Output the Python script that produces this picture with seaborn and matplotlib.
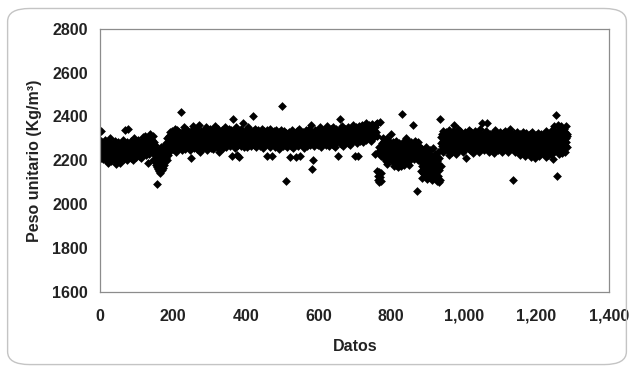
import numpy as np
import pandas as pd
import matplotlib.pyplot as plt
import seaborn as sns
from matplotlib.patches import FancyBboxPatch

# valores (peso unitario por dato, en orden)
peso_a = [2335, 2210, 2290, 2245, 2225, 2270, 2205, 2255, 2280, 2230, 2215, 2265, 2240, 2295, 2220, 2250, 2200, 2275, 2235, 2260,
          2245, 2190, 2285, 2225, 2260, 2210, 2240, 2300, 2230, 2255, 2195, 2270, 2250, 2215, 2280, 2235, 2265, 2205, 2245, 2290,
          2220, 2260, 2185, 2275, 2240, 2230, 2255, 2200, 2285, 2250, 2215, 2270, 2235, 2190, 2265, 2245, 2225, 2280, 2210, 2255,
          2240, 2295, 2225, 2260, 2205, 2250, 2275, 2235, 2340, 2215, 2265, 2245, 2200, 2285, 2255, 2230, 2345, 2270, 2220, 2250,
          2280, 2235, 2260, 2210, 2290, 2245, 2225, 2270, 2255, 2200, 2265, 2240, 2300, 2220, 2250, 2275, 2230, 2260, 2215, 2285,
          2245, 2270, 2230, 2295, 2255, 2220, 2265, 2240, 2280, 2250, 2210, 2275, 2235, 2290, 2260, 2225, 2305, 2245, 2270, 2235,
          2260, 2285, 2250, 2310, 2240, 2275, 2225, 2295, 2265, 2255, 2190, 2280, 2245, 2300, 2230, 2270, 2320, 2250, 2285, 2260,
          2275, 2240, 2295, 2200, 2265, 2310, 2250, 2285, 2230, 2270]
peso_b = [2230, 2200, 2180, 2250, 2090, 2210, 2170, 2160, 2240, 2190, 2150, 2200, 2220, 2140, 2180, 2260, 2170, 2205, 2155, 2230,
          2190, 2215, 2165, 2245, 2200, 2180, 2270, 2225, 2195, 2250, 2210, 2280, 2235, 2200, 2300, 2255, 2225, 2290, 2240, 2310,
          2265, 2330, 2250, 2295, 2275]
peso_c = [2310, 2260, 2335, 2280, 2300, 2250, 2325, 2290, 2270, 2345, 2285, 2305, 2240, 2320, 2295, 2275, 2340, 2265, 2310, 2290,
          2330, 2255, 2300, 2280, 2320, 2270, 2420, 2295, 2245, 2315, 2285, 2335, 2260, 2305, 2290, 2350, 2275, 2310, 2250, 2325,
          2295, 2270, 2340, 2285, 2315, 2260, 2300, 2330, 2275, 2290, 2245, 2320, 2305, 2265, 2335, 2210, 2290, 2310, 2280, 2355,
          2270, 2300, 2325, 2255, 2290, 2315, 2280, 2345, 2265, 2305, 2295, 2250, 2330, 2285, 2310, 2360, 2275, 2300, 2240, 2320,
          2290, 2265, 2335, 2305, 2280, 2320, 2255, 2295, 2310, 2270, 2340, 2285, 2300, 2260, 2325, 2290, 2350, 2275, 2315, 2245,
          2300, 2330, 2280, 2310, 2265, 2295, 2345, 2285, 2255, 2320, 2300, 2275, 2335, 2290, 2310, 2250, 2325, 2280, 2305, 2355,
          2285, 2310, 2270, 2330, 2295, 2260, 2320, 2300, 2280, 2345, 2240, 2305, 2290, 2325, 2275, 2315, 2295, 2265, 2340, 2285,
          2310, 2255, 2300, 2330, 2280, 2295, 2350, 2270, 2315, 2290, 2305, 2260, 2335, 2285, 2320, 2300, 2275, 2345, 2290, 2310,
          2265, 2325, 2295, 2280, 2340, 2305, 2220, 2315, 2285, 2390, 2300, 2270, 2330, 2290, 2255, 2320, 2300, 2280, 2350, 2295,
          2225, 2310, 2290, 2335, 2270, 2305, 2215, 2320, 2285, 2300, 2345, 2265, 2310, 2295, 2330, 2280, 2370, 2290, 2315, 2260,
          2300, 2325, 2285, 2310, 2275, 2340, 2295, 2260, 2320, 2305, 2290, 2350, 2270, 2315, 2300, 2280, 2335, 2295, 2310, 2265,
          2320, 2290, 2305, 2400, 2280, 2335, 2300, 2270, 2315, 2295, 2345, 2285, 2310, 2260, 2325, 2300, 2290, 2340, 2275, 2310,
          2295, 2330, 2280, 2305, 2265, 2320, 2300, 2290, 2345, 2275, 2310, 2255, 2325, 2295, 2285, 2335, 2300, 2270, 2315, 2290,
          2305, 2280, 2340, 2295, 2220, 2310, 2285, 2325, 2270, 2300, 2290, 2345, 2260, 2315, 2300, 2280, 2330, 2220, 2305, 2290,
          2320, 2275, 2300, 2335, 2285, 2310, 2260, 2295, 2340, 2280, 2305, 2325, 2270, 2300, 2290, 2315, 2250, 2330, 2295, 2285,
          2310, 2340, 2275, 2300, 2450, 2290, 2320, 2265, 2305, 2285, 2335, 2270, 2295, 2310, 2105, 2280, 2325, 2300, 2260, 2315,
          2290, 2305, 2275, 2330, 2295, 2215, 2310, 2285, 2320, 2265, 2300, 2340, 2280, 2295, 2310, 2255, 2325, 2290, 2305, 2275,
          2320, 2295, 2215, 2310, 2280, 2335, 2300, 2265, 2315, 2290, 2305, 2345, 2275, 2300, 2220, 2325, 2285, 2310, 2295, 2270,
          2305, 2330, 2285, 2300, 2255, 2320, 2295, 2310, 2275, 2340, 2290, 2305, 2265, 2325, 2300, 2280, 2315, 2295, 2345, 2285,
          2310, 2270, 2300, 2330, 2360, 2290, 2160, 2315, 2200, 2305, 2280, 2325, 2295, 2265, 2340, 2300, 2285, 2320, 2310, 2275,
          2300, 2335, 2290, 2315, 2270, 2305, 2325, 2285, 2350, 2295, 2310, 2260, 2320, 2300, 2340, 2280, 2310, 2295, 2330, 2290,
          2315, 2280, 2305, 2340, 2295, 2320, 2270, 2310, 2300, 2355, 2285, 2325, 2305, 2265, 2335, 2295, 2315, 2290, 2345, 2300,
          2280, 2325, 2310, 2295, 2350, 2270, 2315, 2300, 2335, 2290, 2320, 2260, 2305, 2345, 2285, 2310, 2330, 2300, 2220, 2320,
          2295, 2340, 2310, 2285, 2390, 2305, 2325, 2275, 2315, 2300, 2355, 2290, 2320, 2265, 2335, 2305, 2310, 2345, 2285, 2325,
          2300, 2315, 2340, 2290, 2325, 2280, 2350, 2310, 2295, 2335, 2305, 2270, 2320, 2345, 2300, 2315, 2285, 2330, 2310, 2360,
          2295, 2320, 2305, 2340, 2220, 2315, 2330, 2290, 2350, 2305, 2325, 2280, 2340, 2310, 2220, 2335, 2300, 2355, 2315, 2290,
          2330, 2305, 2345, 2320, 2295, 2360, 2310, 2335, 2285, 2325, 2350, 2300, 2340, 2315, 2370, 2295, 2330, 2310, 2355, 2320,
          2305, 2345, 2325, 2360, 2300, 2335, 2315, 2350, 2290, 2340, 2320, 2365, 2310, 2345, 2330, 2300, 2355, 2325, 2340, 2315,
          2350, 2230, 2330, 2365, 2310]
peso_d = [2150, 2370, 2130, 2240, 2110, 2145, 2100, 2260, 2125, 2375, 2105, 2220, 2140, 2280, 2250, 2230, 2300, 2260, 2215, 2290]
peso_e = [2250, 2210, 2280, 2235, 2195, 2265, 2225, 2300, 2245, 2185, 2270, 2230, 2255, 2205, 2290, 2240, 2215, 2275, 2250, 2320,
          2225, 2260, 2195, 2240, 2285, 2215, 2250, 2175, 2270, 2230, 2205, 2255, 2290, 2180, 2245, 2220, 2265, 2200, 2235, 2170,
          2255, 2210, 2280, 2230, 2190, 2260, 2240, 2175, 2270, 2410, 2225, 2250, 2200, 2285, 2235, 2180, 2265, 2215, 2245, 2300,
          2220, 2270, 2195, 2250, 2235, 2290, 2210, 2260, 2180, 2245, 2275, 2225, 2200, 2255, 2240, 2285, 2215, 2265, 2230, 2360,
          2250, 2205, 2275, 2240, 2225, 2290, 2260, 2215, 2245, 2060, 2270, 2235, 2200, 2255, 2285, 2220, 2240, 2265, 2195, 2250]
peso_f = [2200, 2150, 2230, 2175, 2120, 2250, 2190, 2140, 2210, 2165, 2240, 2130, 2185, 2220, 2155, 2260, 2170, 2115, 2205, 2145,
          2195, 2235, 2160, 2125, 2215, 2180, 2245, 2150, 2200, 2135, 2225, 2170, 2110, 2190, 2255, 2160, 2205, 2140, 2180, 2230,
          2120, 2175, 2215, 2150, 2195, 2105, 2165, 2240, 2130, 2185, 2100, 2210, 2155, 2390, 2110]
peso_g = [2280, 2175, 2305, 2250, 2320, 2265, 2290, 2335, 2240, 2300, 2275, 2315, 2255, 2295, 2330, 2270, 2310, 2245, 2285, 2320,
          2260, 2300, 2340, 2275, 2225, 2310, 2290, 2255, 2325, 2280, 2305, 2240, 2295, 2335, 2270, 2315, 2250, 2290, 2360, 2285,
          2310, 2265, 2300, 2230, 2325, 2280, 2295, 2345, 2260, 2305, 2275, 2320, 2245, 2290, 2335, 2270, 2310, 2255, 2300, 2285,
          2320, 2265, 2295, 2240, 2310, 2280, 2330, 2255, 2300, 2275, 2315, 2210, 2290, 2325, 2260, 2305, 2285, 2340, 2250, 2295,
          2270, 2315, 2245, 2300, 2280, 2330, 2260, 2295, 2310, 2235, 2285, 2320, 2265, 2305, 2290, 2250, 2335, 2275, 2300, 2255,
          2310, 2285, 2325, 2260, 2295, 2240, 2315, 2280, 2300, 2345, 2270, 2305, 2250, 2290, 2370, 2265, 2320, 2285, 2300, 2245,
          2295, 2325, 2270, 2310, 2255, 2290, 2335, 2280, 2300, 2370, 2260, 2315, 2285, 2240, 2305, 2275, 2320, 2295, 2265, 2310,
          2280, 2300, 2250, 2325, 2290, 2270, 2310, 2235, 2295, 2340, 2265, 2305, 2285, 2255, 2320, 2275, 2300, 2245, 2315, 2290,
          2260, 2305, 2280, 2330, 2250, 2295, 2315, 2270, 2290, 2240, 2310, 2285, 2325, 2265, 2300, 2255, 2335, 2280, 2295, 2275,
          2310, 2250, 2290, 2320, 2270, 2300, 2240, 2285, 2315, 2265, 2305, 2345, 2280, 2295, 2255, 2320, 2275, 2300, 2260, 2110,
          2290, 2325, 2265, 2305, 2240, 2285, 2310, 2255, 2295, 2330, 2270, 2300, 2245, 2315, 2280, 2260, 2305, 2290, 2225, 2320,
          2275, 2295, 2250, 2310, 2265, 2285, 2330, 2240, 2300, 2270, 2315, 2255, 2290, 2220, 2305, 2280, 2325, 2260, 2295, 2245,
          2310, 2270, 2300, 2235, 2285, 2320, 2255, 2295, 2215, 2305, 2275, 2330, 2250, 2290, 2265, 2310, 2230, 2280, 2300, 2245,
          2290, 2210, 2315, 2265, 2300, 2240, 2285, 2325, 2255, 2295, 2220, 2310, 2270, 2305, 2235, 2280, 2320, 2250, 2295, 2265,
          2300, 2245, 2315, 2275, 2230, 2290, 2320, 2260, 2305, 2215, 2285, 2335, 2250, 2295, 2270, 2310, 2225, 2300, 2280, 2240,
          2320, 2265, 2295, 2230, 2310, 2280, 2250, 2340, 2205, 2300, 2270, 2325, 2240, 2355, 2290, 2260, 2330, 2285, 2405, 2130,
          2310, 2250, 2360, 2275, 2335, 2230, 2300, 2345, 2265, 2320, 2240, 2355, 2290, 2310, 2235, 2340, 2280, 2325, 2250, 2305,
          2345, 2270, 2330, 2240, 2300, 2355, 2285, 2320, 2260, 2310]

x_ticks = [0, 200, 400, 600, 800, 1000, 1200, 1400]
x_labels = ['0', '200', '400', '600', '800', '1,000', '1,200', '1,400']
y_ticks = [1600, 1800, 2000, 2200, 2400, 2600, 2800]

peso = peso_a + peso_b + peso_c + peso_d + peso_e + peso_f + peso_g
df = pd.DataFrame({'dato': np.arange(1, len(peso) + 1), 'peso': peso})

sns.set_style('white')
plt.rcParams['font.family'] = ['Liberation Sans', 'DejaVu Sans']
plt.rcParams['font.weight'] = 'bold'

fig = plt.figure(figsize=(6.34, 3.69), dpi=100)
ax = fig.add_axes([0.158, 0.209, 0.803, 0.713])

# marco redondeado exterior (como en Excel)
fig.patches.append(FancyBboxPatch((0.012, 0.012), 0.976, 0.965, boxstyle='round,pad=0,rounding_size=0.035',
                                  transform=fig.transFigure, fill=False, edgecolor='#c4c4c4', linewidth=1.0))

sns.scatterplot(x='dato', y='peso', data=df, ax=ax, marker='D', s=20, color='black', linewidth=0)

ax.set_xlim(0, 1400)
ax.set_ylim(1600, 2800)
ax.set_xticks(x_ticks)
ax.set_xticklabels(x_labels)
ax.set_yticks(y_ticks)
ax.tick_params(axis='both', labelsize=11.5, colors='#222222', length=3, width=0.8, direction='out')
ax.tick_params(axis='x', pad=9)
ax.tick_params(axis='y', pad=6)
ax.tick_params(axis='both', color='#888888')
for s in ax.spines.values():
    s.set_color('#8c8c8c')
    s.set_linewidth(0.9)
ax.set_xlabel('Datos', fontsize=11.5, fontweight='bold', color='#222222', labelpad=11)
ax.set_ylabel('Peso unitario (Kg/m³)', fontsize=11.5, fontweight='bold', color='#222222', labelpad=7)

fig.savefig('out.png', dpi=100)
